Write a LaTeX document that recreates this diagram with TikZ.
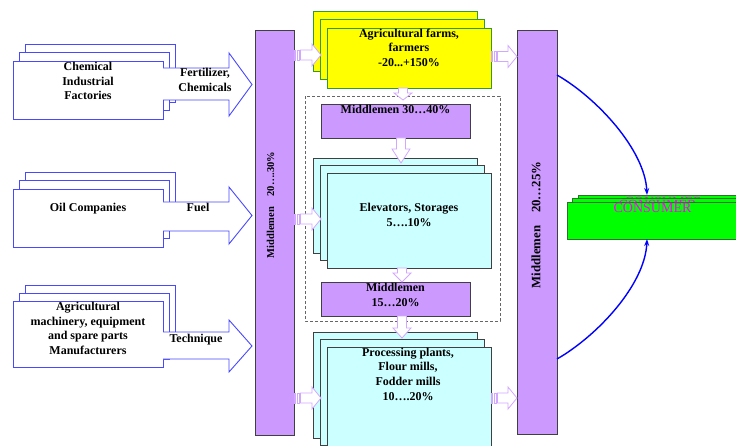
\documentclass[tikz,border=0pt]{standalone}
\usepackage{fontspec}
\setmainfont{Liberation Serif}
\usetikzlibrary{arrows.meta,calc}
\definecolor{lav}{HTML}{CC99FF}
\definecolor{cyanl}{HTML}{CCFFFF}
\definecolor{yel}{HTML}{FFFF00}
\definecolor{grn}{HTML}{00FF00}
\definecolor{bluel}{HTML}{4848FF}
\definecolor{arrowp}{HTML}{D2A8FF}
\definecolor{mag}{HTML}{FF00FF}
\definecolor{dgray}{HTML}{404040}
\definecolor{ygreen}{HTML}{339933}
\definecolor{ggreen}{HTML}{2F6F2F}

\newcommand{\stackbox}[8]{%
  \node[#1, minimum width=#5pt, minimum height=#6pt, anchor=north west] at ({#3+2*#7},{#4+2*#8}) {};
  \node[#1, minimum width=#5pt, minimum height=#6pt, anchor=north west] at ({#3+#7},{#4+#8}) {};
  \node[#1, minimum width=#5pt, minimum height=#6pt, anchor=north west] (#2) at (#3,#4) {};
}
\newcommand{\bigarrow}[5]{%
  \fill[white] (#1,#2) -- (229,#2) -- (229,#4) -- (252,{(#4+#5)/2}) -- (229,#5) -- (229,#3) -- (#1,#3) -- cycle;
  \draw[bluel, line width=0.9pt, line join=miter] (#1,#2) -- (229,#2) -- (229,#4) -- (252,{(#4+#5)/2}) -- (229,#5) -- (229,#3) -- (#1,#3);
}
\newcommand{\sarrH}[3]{%
  \draw[smarr] (#1,{#3-5}) rectangle ++(1.5,10);
  \draw[smarr] ({#1+3},{#3-5}) rectangle ++(2,10);
  \draw[smarr] ({#1+6.5},{#3-5}) -- ({#2-9},{#3-5}) -- ({#2-9},{#3-11}) -- (#2,#3) -- ({#2-9},{#3+11}) -- ({#2-9},{#3+5}) -- ({#1+6.5},{#3+5}) -- cycle;
}
\newcommand{\sarrV}[4]{%
  \draw[smarr] ({#1-4.5},#2) -- ({#1-4.5},{#3-#4}) -- ({#1-9},{#3-#4}) -- (#1,#3) -- ({#1+9},{#3-#4}) -- ({#1+4.5},{#3-#4}) -- ({#1+4.5},#2) -- cycle;
}

\tikzset{
  whitebox/.style={draw=bluel, fill=white, line width=0.9pt, inner sep=0pt, outer sep=0pt},
  yelbox/.style={draw=ygreen, fill=yel, line width=0.9pt, inner sep=0pt, outer sep=0pt},
  cybox/.style={draw=dgray, fill=cyanl, line width=0.9pt, inner sep=0pt, outer sep=0pt},
  lavbox/.style={draw=dgray, fill=lav, line width=0.9pt, inner sep=0pt, outer sep=0pt},
  grbox/.style={draw=ggreen, fill=grn, line width=0.9pt, inner sep=0pt, outer sep=0pt},
  lbl/.style={font=\fontsize{12}{14.7}\selectfont\bfseries, align=center, inner sep=0pt},
  cons/.style={font=\fontsize{14}{16}\selectfont, text=mag, inner sep=0pt},
  smarr/.style={draw=arrowp, fill=white, line width=0.8pt},
  conn/.style={draw=blue, line width=1.4pt, -{Stealth[length=7pt,width=5pt]}},
}

\begin{document}
\begin{tikzpicture}[x=1pt,y=-1pt]
\useasboundingbox (0,0) rectangle (736,446);
\clip (0,0) rectangle (736,446);

% left source boxes
\stackbox{whitebox}{chem}{13}{61}{150}{58}{6}{-8.5}
\stackbox{whitebox}{oil}{13}{189}{150}{58}{6}{-8.5}
\stackbox{whitebox}{mach}{13}{301}{150}{66}{6}{-8}
\node[lbl, anchor=north] (chemT) at (88,62) {Chemical\\Industrial\\Factories};
\node[lbl, anchor=north] (oilT) at (88,203) {Oil Companies};
\node[lbl, anchor=north] (machT) at (88,302) {Agricultural\\machinery, equipment\\and spare parts\\Manufacturers};

% big block arrows
\bigarrow{163}{68}{100}{53}{116}
\bigarrow{163}{202}{231}{187}{244}
\bigarrow{163}{332}{359}{320}{372}
\node[lbl, anchor=north] (fertT) at (205,68) {Fertilizer,\\Chemicals};
\node[lbl, anchor=north] (fuelT) at (198,203) {Fuel};
\node[lbl, anchor=north] (techT) at (196,334) {Technique};

% middlemen bars
\node[lavbox, minimum width=39pt, minimum height=405pt, anchor=north west] (lbar) at (255,30) {};
\node[lavbox, minimum width=40pt, minimum height=404pt, anchor=north west] (rbar) at (517,30) {};
\node[lbl, font=\fontsize{10.5}{12}\selectfont\bfseries, rotate=90] (lbarT) at (270.5,205) {Middlemen\quad 20….30\%};
\node[lbl, font=\fontsize{12.8}{14}\selectfont\bfseries, rotate=90] (rbarT) at (536,225) {Middlemen\quad 20…25\%};

% dashed group
\draw[dgray!80, dashed, line width=0.8pt, dash pattern=on 3pt off 2pt] (305,96) rectangle (500,321);

% central column
\stackbox{yelbox}{farms}{327}{28}{164}{60}{-7}{-8.5}
\node[lbl, anchor=north] (farmsT) at (409,28.5) {Agricultural farms,\\farmers\\-20...+150\%};

\node[lavbox, minimum width=149pt, minimum height=34pt, anchor=north west] (m30) at (321,104) {};
\node[lbl, anchor=north] (m30T) at (395.5,105) {Middlemen 30…40\%};

\stackbox{cybox}{elev}{327}{173}{164}{95}{-7}{-7.5}
\node[lbl, anchor=north] (elevT) at (409,203) {Elevators, Storages\\5….10\%};

\node[lavbox, minimum width=149pt, minimum height=34pt, anchor=north west] (m15) at (321,282) {};
\node[lbl, anchor=north] (m15T) at (395.5,283) {Middlemen\\15…20\%};

\stackbox{cybox}{proc}{327}{347}{164}{106}{-7}{-7.5}
\node[lbl, anchor=north] (procT) at (408,347.5) {Processing plants,\\Flour mills,\\Fodder mills\\10….20\%};

% small striped arrows
\sarrH{294}{321}{55}
\sarrH{294}{321}{219}
\sarrH{294}{321}{398}
\sarrH{491}{517}{56.5}
\sarrH{491}{517}{398}
\sarrV{403}{88}{100}{7}
\sarrV{401}{138}{163}{14}
\sarrV{402}{268}{282}{9}
\sarrV{402}{316}{338}{10}

% consumer
\node[grbox, minimum width=171pt, minimum height=37pt, anchor=north west] (consB) at (578,195) {};
\node[cons, anchor=north] at ($(consB.north)+(0,2)$) {CONSUMER};
\node[grbox, minimum width=171pt, minimum height=37pt, anchor=north west] (consM) at (572,198.5) {};
\node[cons, anchor=north] at ($(consM.north)+(0,2)$) {CONSUMER};
\node[grbox, minimum width=171pt, minimum height=37pt, anchor=north west] (cons) at (567,202) {};
\node[cons, anchor=north] (consT) at ($(cons.north)+(0,1.5)$) {CONSUMER};

\coordinate (c1) at (557,75);
\coordinate (c2) at (557,359);
\coordinate (e1) at (647,195);
\coordinate (e2) at (647,239);
\draw[conn] (c1) .. controls (597,98) and (645,150) .. (e1);
\draw[conn] (c2) .. controls (597,336) and (645,285) .. (e2);
\end{tikzpicture}
\end{document}
